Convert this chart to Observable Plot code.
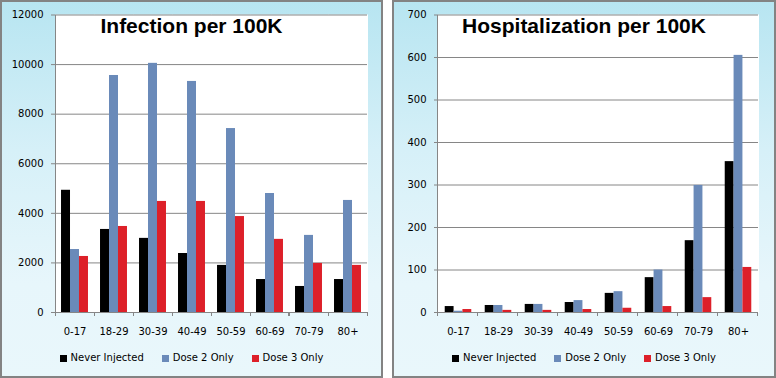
<!DOCTYPE html>
<html><head><meta charset="utf-8">
<script src="https://cdn.jsdelivr.net/npm/d3@7"></script>
<script src="https://cdn.jsdelivr.net/npm/@observablehq/plot@0.6"></script>
<style>
body{margin:0;background:#fff;width:776px;height:378px;position:relative;overflow:hidden;font-family:"DejaVu Sans",sans-serif}
.panel{position:absolute;top:0;height:378px;background:linear-gradient(to bottom,#b7e5f1 0%,#d6f0f8 40%,#e7f6fb 75%,#e9f7fb 100%);box-shadow:inset 0 0 0 2px #838383}
.panel svg{position:absolute;left:0;top:0}
.title{position:absolute;left:0;right:0;top:14px;text-align:center;font:bold 21px/24px "Liberation Sans",Arial,sans-serif;color:#000;white-space:nowrap}
.legend{position:absolute;left:0;right:0;top:352px;display:flex;justify-content:center;gap:18px;font:10px/12px "DejaVu Sans",sans-serif;color:#000}
.legend span{display:flex;align-items:center}
.legend i{display:inline-block;width:7px;height:7px;margin-right:4px}
</style></head>
<body>
<div id="p1" class="panel" style="left:0;width:383px"></div>
<div id="p2" class="panel" style="left:392px;width:384px"></div>
<script>
const ageGroups = ["0-17","18-29","30-39","40-49","50-59","60-69","70-79","80+"];
const seriesNames = ["Never Injected","Dose 2 Only","Dose 3 Only"];
const seriesColors = ["#000000","#6a8ab9","#dd2029"];

const infectionTitle = "Infection per 100K";
const infectionNever = [4930, 3350, 2990, 2380, 1900, 1330, 1050, 1330];
const infectionDose2 = [2540, 9560, 10050, 9320, 7420, 4800, 3110, 4520];
const infectionDose3 = [2260, 3470, 4480, 4480, 3870, 2950, 1980, 1900];
const infectionTicks = [0, 2000, 4000, 6000, 8000, 10000, 12000];

const hospTitle = "Hospitalization per 100K";
const hospNever = [14, 16.5, 19, 23.5, 45, 82, 169, 355];
const hospDose2 = [3, 16.5, 19, 28, 49, 100, 299, 605];
const hospDose3 = [7, 5, 5, 7, 10, 14, 35, 106];
const hospTicks = [0, 100, 200, 300, 400, 500, 600, 700];

function toRows(seriesValues) {
  return ageGroups.flatMap((age, i) =>
    seriesNames.map((s, j) => ({age, series: s, value: seriesValues[j][i]})));
}

function makeChart(el, title, rows, ticks, opts) {
  let facetCount = 0;
  const gray = "#868686";
  const deco = (index, scales, values, dimensions) => {
    const g = d3.create("svg:g").attr("stroke", gray).attr("shape-rendering", "crispEdges");
    const [a, b] = scales.x.range();
    const y0 = scales.y(0);
    const yTop = scales.y(ticks[ticks.length - 1]);
    for (const xv of [a, b]) {
      g.append("line").attr("x1", xv).attr("x2", xv).attr("y1", y0).attr("y2", y0 + 4);
    }
    if (facetCount === 0) {
      g.append("line").attr("x1", a).attr("x2", a).attr("y1", yTop).attr("y2", y0);
    }
    facetCount++;
    return g.node();
  };
  const svg = Plot.plot({
    width: opts.width,
    height: 345,
    marginLeft: opts.marginLeft,
    marginRight: 15.7,
    marginTop: 14.5,
    marginBottom: 33,
    style: {background: "transparent", fontSize: "10px", fontFamily: "DejaVu Sans, sans-serif", color: "#000", overflow: "visible"},
    facet: {data: rows, x: "age"},
    fx: {domain: ageGroups, padding: 0, label: null, axis: null},
    x: {domain: seriesNames, paddingInner: 0, paddingOuter: opts.paddingOuter, axis: null, round: false},
    y: {domain: [ticks[0], ticks[ticks.length - 1]], axis: null},
    color: {domain: seriesNames, range: seriesColors},
    marks: [
      Plot.frame({fill: "white", stroke: null, inset: -0.5}),
      Plot.ruleY(ticks, {stroke: gray, strokeWidth: 1}),
      Plot.barY(rows, {x: "series", y: "value", fill: "series"}),
      deco,
      Plot.axisY({ticks, tickSize: 4, tickPadding: 8, stroke: gray, fill: "#000", label: null, tickFormat: d => String(d)}),
      Plot.axisFx({anchor: "bottom", tickSize: 0, tickPadding: 15, label: null, fill: "#000"})
    ]
  });
  el.appendChild(svg);
  const t = document.createElement("div");
  t.className = "title";
  t.textContent = title;
  el.appendChild(t);
  const lg = document.createElement("div");
  lg.className = "legend";
  seriesNames.forEach((s, j) => {
    const item = document.createElement("span");
    const sw = document.createElement("i");
    sw.style.background = seriesColors[j];
    item.appendChild(sw);
    item.appendChild(document.createTextNode(s));
    lg.appendChild(item);
  });
  el.appendChild(lg);
}

makeChart(document.getElementById("p1"), infectionTitle,
  toRows([infectionNever, infectionDose2, infectionDose3]), infectionTicks,
  {width: 383, marginLeft: 54.3, paddingOuter: 0.67});
makeChart(document.getElementById("p2"), hospTitle,
  toRows([hospNever, hospDose2, hospDose3]), hospTicks,
  {width: 384, marginLeft: 42.7, paddingOuter: 0.76});
</script>
</body></html>
